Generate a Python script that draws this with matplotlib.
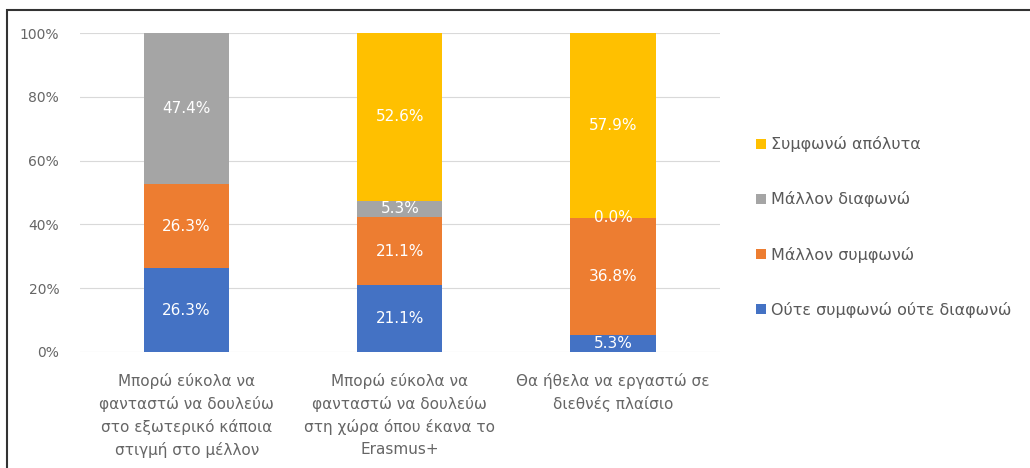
import matplotlib.pyplot as plt
from matplotlib.patches import Rectangle
from matplotlib.ticker import PercentFormatter

plt.rcParams['font.family'] = ['DejaVu Sans']

# Data
categories = ['Μπορώ εύκολα να\nφανταστώ να δουλεύω\nστο εξωτερικό κάποια\nστιγμή στο μέλλον',
              'Μπορώ εύκολα να\nφανταστώ να δουλεύω\nστη χώρα όπου έκανα το\nErasmus+',
              'Θα ήθελα να εργαστώ σε\nδιεθνές πλαίσιο']
neutral = [26.3, 21.1, 5.3]       # Ούτε συμφωνώ ούτε διαφωνώ
rather_agree = [26.3, 21.1, 36.8]  # Μάλλον συμφωνώ
rather_disagree = [47.4, 5.3, 0.0] # Μάλλον διαφωνώ
fully_agree = [0.0, 52.6, 57.9]    # Συμφωνώ απόλυτα

series = [
    ('Ούτε συμφωνώ ούτε διαφωνώ', neutral, '#4472C4'),
    ('Μάλλον συμφωνώ', rather_agree, '#ED7D31'),
    ('Μάλλον διαφωνώ', rather_disagree, '#A5A5A5'),
    ('Συμφωνώ απόλυτα', fully_agree, '#FFC000'),
]

fig = plt.figure(figsize=(10.3, 4.68), dpi=100)
ax = fig.add_axes([0.0777, 0.248, 0.621, 0.681])

x = range(len(categories))
bottom = [0.0] * len(categories)
handles = []
for name, vals, color in series:
    bars = ax.bar(x, vals, 0.4, bottom=bottom, color=color, label=name, zorder=2)
    handles.append(bars)
    for i, v in enumerate(vals):
        # the first bar has no yellow segment, no label shown there
        if v == 0 and i == 0:
            continue
        ax.text(i, bottom[i] + v / 2, f'{v:.1f}%', ha='center', va='center',
                color='white', fontsize=11, zorder=3)
    bottom = [b + v for b, v in zip(bottom, vals)]

ax.set_xlim(-0.5, 2.5)
ax.set_ylim(0, 100)
ax.set_yticks(range(0, 101, 20))
ax.yaxis.set_major_formatter(PercentFormatter(decimals=0))
ax.set_xticks(list(x))
ax.set_xticklabels(categories, linespacing=1.55)
ax.tick_params(axis='both', length=0, colors='#666666', labelsize=10)
ax.tick_params(axis='x', pad=15, labelsize=11)
ax.tick_params(axis='y', pad=15)
ax.grid(axis='y', color='#D9D9D9', linewidth=0.8, zorder=0)
for s in ax.spines.values():
    s.set_visible(False)

leg = fig.legend(handles[::-1], [h.get_label() for h in handles[::-1]],
                 loc='center left', bbox_to_anchor=(0.72, 0.515), frameon=False,
                 handlelength=0.6, handleheight=0.6, handletextpad=0.35,
                 labelspacing=2.45, fontsize=11.5)
for t in leg.get_texts():
    t.set_color('#595959')

fig.patches.append(Rectangle((0.007, -0.05), 1.05, 1.028, transform=fig.transFigure,
                             fill=False, edgecolor='#333333', linewidth=1.5))

fig.savefig('out.png', dpi=100, facecolor='white')
